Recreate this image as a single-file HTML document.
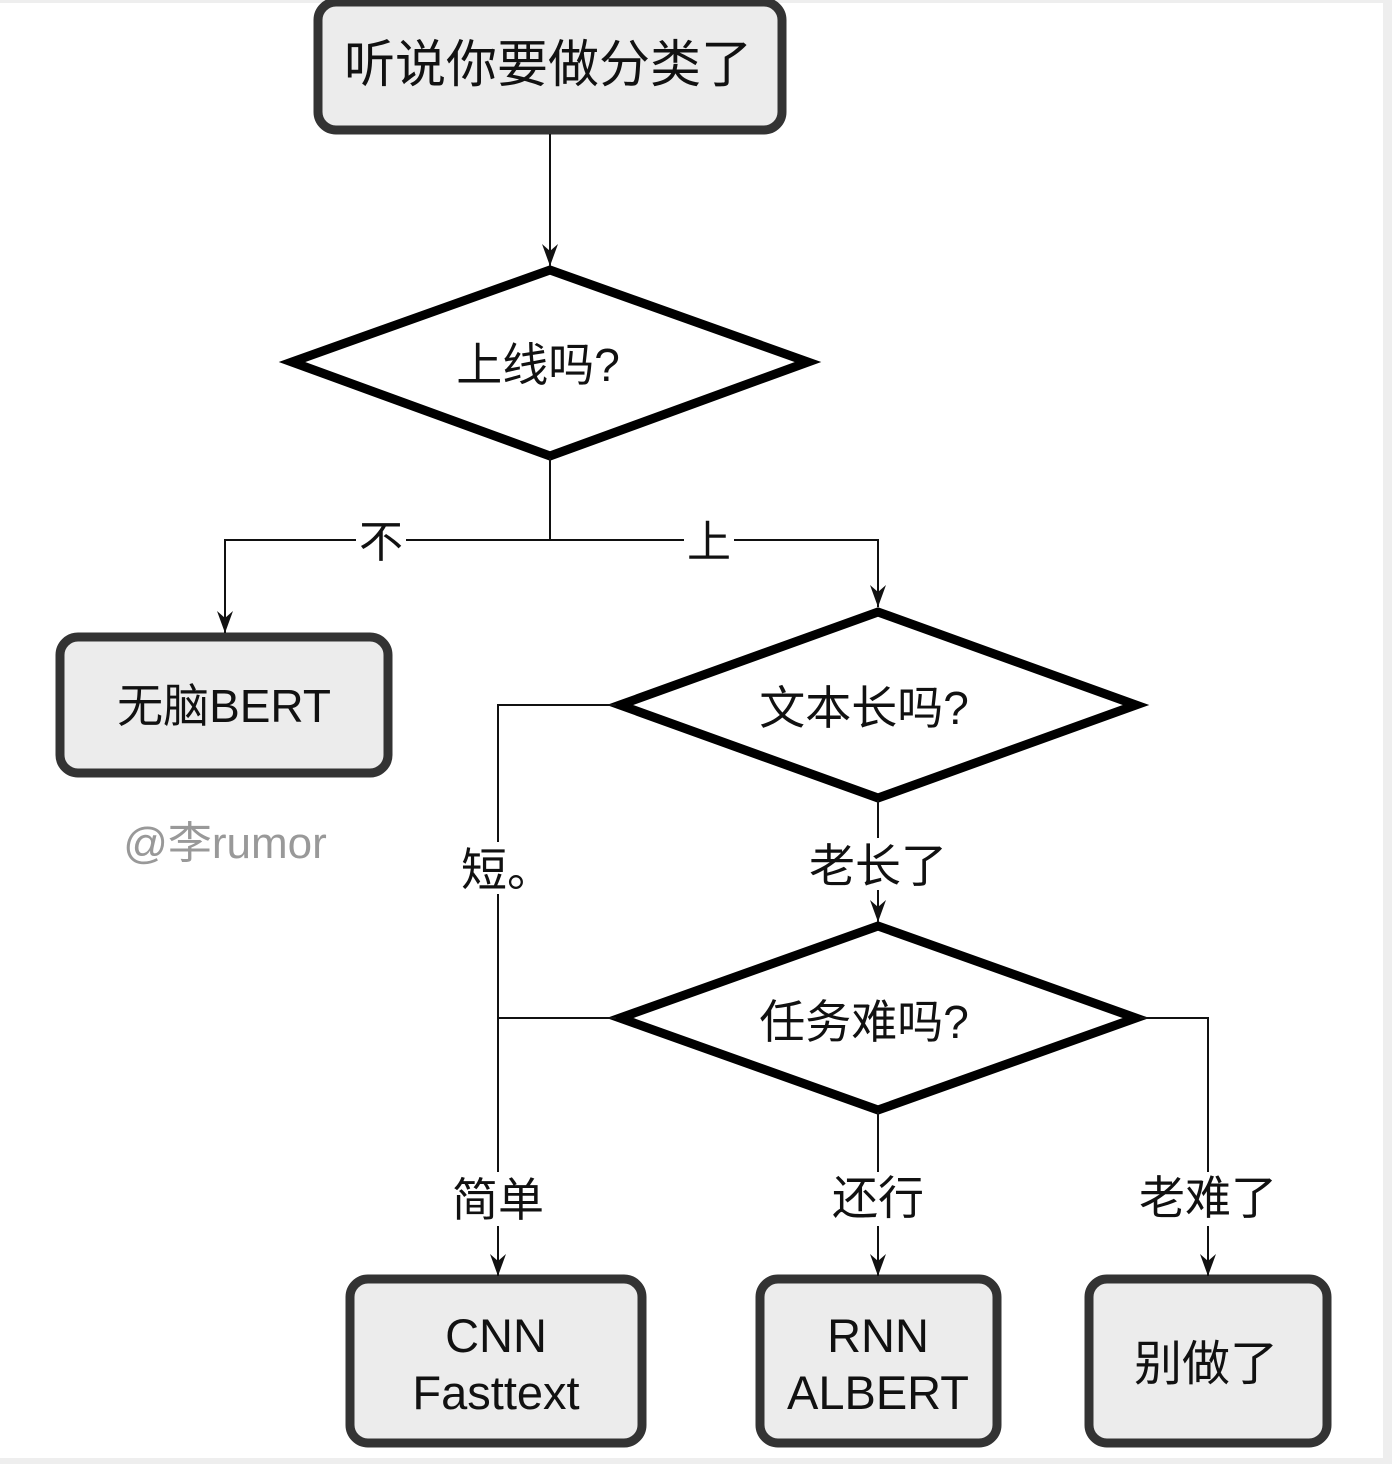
<!DOCTYPE html>
<html><head><meta charset="utf-8"><style>
html,body{margin:0;padding:0;background:#fff}
svg{display:block}
text{font-family:"Liberation Sans","Noto Sans CJK SC",sans-serif;fill:#111}
</style></head><body>
<svg width="1392" height="1464" viewBox="0 0 1392 1464" xmlns="http://www.w3.org/2000/svg">
<defs><marker id="a" viewBox="0 0 22 16" refX="22" refY="8" markerWidth="22" markerHeight="16" markerUnits="userSpaceOnUse" orient="auto"><path d="M0,0 L22,8 L0,16 L7,8 Z" fill="#111"/></marker></defs>
<rect x="0" y="0" width="1392" height="3" fill="#eee"/>
<rect x="1383" y="0" width="9" height="1464" fill="#eee"/>
<rect x="0" y="1458" width="1392" height="6" fill="#eee"/>
<g fill="#ececec" stroke="#333" stroke-width="9">
<rect x="318" y="2" width="464" height="128" rx="18"/>
<rect x="60" y="637" width="328" height="136" rx="18"/>
<rect x="350" y="1279" width="292" height="164" rx="18"/>
<rect x="760" y="1279" width="237" height="164" rx="18"/>
<rect x="1089" y="1279" width="238" height="164" rx="18"/>
</g>
<g fill="#fff" stroke="#000" stroke-width="9" stroke-linejoin="miter">
<polygon points="292,362 550,270 808,362 550,456"/>
<polygon points="620,705 878,612 1136,705 878,798"/>
<polygon points="620,1018 878,926 1136,1018 878,1110"/>
</g>
<g stroke="#111" stroke-width="2" fill="none">
<line x1="550" y1="134" x2="550" y2="266" marker-end="url(#a)"/>
<polyline points="550,458 550,540 225,540 225,633" marker-end="url(#a)"/>
<polyline points="550,540 878,540 878,607" marker-end="url(#a)"/>
<polyline points="616,705 498,705 498,1276" marker-end="url(#a)"/>
<line x1="616" y1="1018" x2="498" y2="1018"/>
<line x1="878" y1="800" x2="878" y2="922" marker-end="url(#a)"/>
<line x1="878" y1="1112" x2="878" y2="1276" marker-end="url(#a)"/>
<polyline points="1140,1018 1208,1018 1208,1276" marker-end="url(#a)"/>
</g>
<g fill="#fff">
<rect x="356" y="518" width="50" height="44"/>
<rect x="684" y="518" width="50" height="44"/>
<rect x="462" y="842" width="90" height="52"/>
<rect x="800" y="838" width="156" height="52"/>
<rect x="448" y="1172" width="100" height="54"/>
<rect x="828" y="1172" width="100" height="54"/>
<rect x="1134" y="1172" width="150" height="54"/>
</g>
<g text-anchor="middle">
<text x="548" y="82" font-size="51">听说你要做分类了</text>
<text x="538" y="381" font-size="46">上线吗?</text>
<text x="864" y="724" font-size="46">文本长吗?</text>
<text x="864" y="1038" font-size="46">任务难吗?</text>
<text x="224" y="722" font-size="46">无脑BERT</text>
<text x="225" y="858" font-size="44" style="fill:#999">@李rumor</text>
<text x="381" y="557" font-size="44">不</text>
<text x="709" y="557" font-size="44">上</text>
<text x="507" y="886" font-size="46">短。</text>
<text x="878" y="882" font-size="46">老长了</text>
<text x="498" y="1216" font-size="46">简单</text>
<text x="878" y="1214" font-size="46">还行</text>
<text x="1208" y="1214" font-size="46">老难了</text>
<text x="496" y="1352" font-size="47">CNN</text>
<text x="496" y="1409" font-size="47">Fasttext</text>
<text x="878" y="1352" font-size="47">RNN</text>
<text x="878" y="1409" font-size="47">ALBERT</text>
<text x="1206" y="1380" font-size="48">别做了</text>
</g>
</svg>
</body></html>
